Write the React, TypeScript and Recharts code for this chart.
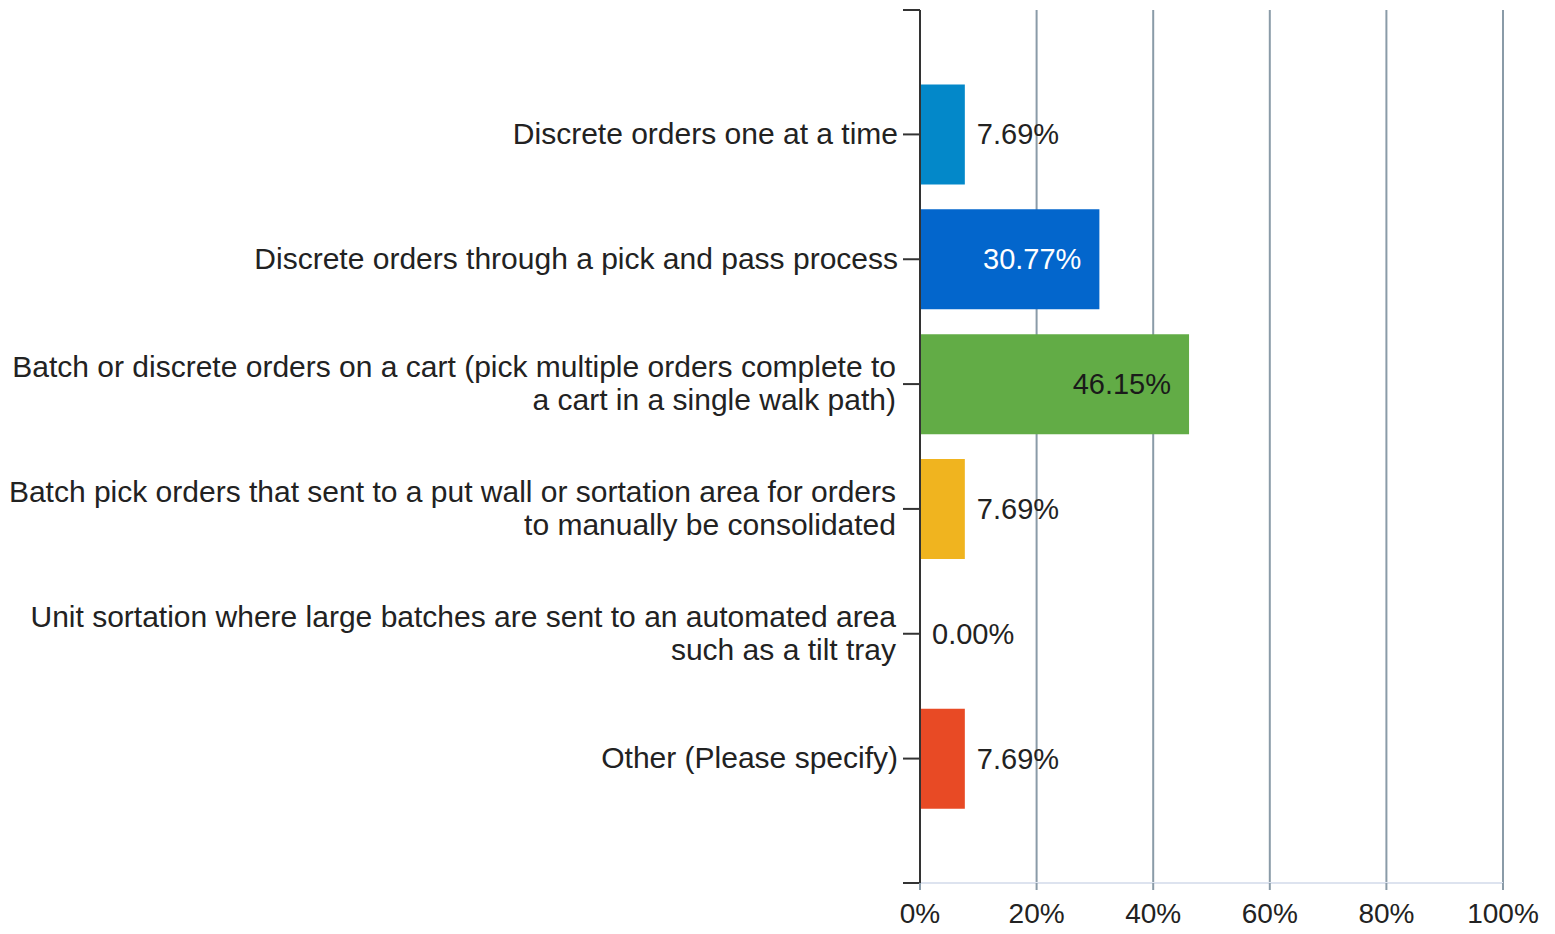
import React from 'react'
import {
  BarChart,
  Bar,
  XAxis,
  YAxis,
  CartesianGrid,
  Cell,
  LabelList,
  usePlotArea,
} from 'recharts'

const categories = [
  'Discrete orders one at a time',
  'Discrete orders through a pick and pass process',
  'Batch or discrete orders on a cart (pick multiple orders complete to\na cart in a single walk path)',
  'Batch pick orders that sent to a put wall or sortation area for orders\nto manually be consolidated',
  'Unit sortation where large batches are sent to an automated area\nsuch as a tilt tray',
  'Other (Please specify)',
]
const shares = [7.69, 30.77, 46.15, 7.69, 0.0, 7.69]
const barColors = ['#0388c9', '#0366cc', '#62ac46', '#f0b41f', '#f0b41f', '#e84a25']
const insideLabelColors = ['#ffffff', '#ffffff', '#1a1a1a', '#1a1a1a', '#1a1a1a', '#ffffff']
const xTicks = [0, 20, 40, 60, 80, 100]

const FONT = '"Liberation Sans", Arial, sans-serif'
const TEXT = '#222'

const data = categories.map((name, i) => ({ name, value: shares[i] }))

function CategoryTick(props: any) {
  const { x, y, payload } = props
  const lines = String(payload.value).split('\n')
  const lh = 33
  const start = -((lines.length - 1) * lh) / 2 - 1
  // wrapped labels sit a touch further from the axis
  const tx = lines.length > 1 ? x - 2 : x
  return (
    <text x={tx} y={y} textAnchor="end" fontFamily={FONT} fontSize={30} fill={TEXT}>
      {lines.map((l, i) => (
        <tspan key={i} x={tx} dy={i === 0 ? start : lh} dominantBaseline="central">
          {l}
        </tspan>
      ))}
    </text>
  )
}

function ValueLabel(props: any) {
  const { x, y, width, height, value, index } = props
  const inside = value >= 20
  const w = value === 0 ? 0 : width
  return (
    <text
      x={inside ? x + w - 18 : x + w + 12}
      y={y + height / 2}
      textAnchor={inside ? 'end' : 'start'}
      dominantBaseline="central"
      fontFamily={FONT}
      fontSize={29}
      fill={inside ? insideLabelColors[index] : TEXT}
    >
      {Number(value).toFixed(2)}%
    </text>
  )
}

// little ticks at both ends of the category axis
function AxisEnds() {
  const area = usePlotArea()
  if (!area) return null
  const { x, y, height } = area
  return (
    <g stroke="#333" strokeWidth={2}>
      <line x1={x - 17} x2={x} y1={y} y2={y} />
      <line x1={x - 17} x2={x} y1={y + height} y2={y + height} />
    </g>
  )
}

export default function App() {
  return (
    <div style={{ position: 'absolute', left: 0, top: 0, background: '#fff' }}>
      <BarChart
        width={1555}
        height={934}
        data={data}
        layout="vertical"
        margin={{ top: 10, right: 52, bottom: 0, left: 0 }}
        barCategoryGap="10%"
      >
        <CartesianGrid horizontal={false} stroke="#8a9ba8" strokeWidth={2} />
        <XAxis
          type="number"
          domain={[0, 100]}
          ticks={xTicks}
          tickFormatter={(v: number) => `${v}%`}
          height={51}
          axisLine={{ stroke: '#dde3ef', strokeWidth: 2 }}
          tickLine={{ stroke: '#8a9ba8', strokeWidth: 2 }}
          tickSize={7}
          tickMargin={13}
          tick={{ fontSize: 28, fill: TEXT, fontFamily: FONT }}
        />
        <YAxis
          type="category"
          dataKey="name"
          width={920}
          padding={{ top: 62, bottom: 62 }}
          axisLine={{ stroke: '#333', strokeWidth: 2 }}
          tickLine={{ stroke: '#333', strokeWidth: 2 }}
          tickSize={17}
          tickMargin={5}
          tick={<CategoryTick />}
          interval={0}
        />
        <Bar dataKey="value" minPointSize={1} isAnimationActive={false}>
          {data.map((d, i) => (
            <Cell key={i} fill={barColors[i]} />
          ))}
          <LabelList dataKey="value" content={<ValueLabel />} />
        </Bar>
        <AxisEnds />
      </BarChart>
    </div>
  )
}
